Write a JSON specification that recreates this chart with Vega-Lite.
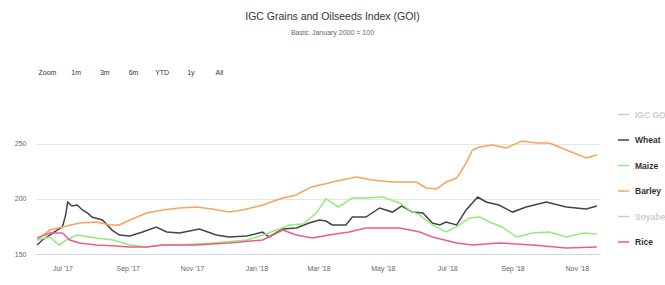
{
  "$schema": "https://vega.github.io/schema/vega-lite/v6.json",
  "width": 565,
  "height": 149,
  "autosize": {"type": "none"},
  "padding": {"left": 35, "top": 105, "right": 65, "bottom": 31},
  "background": "#ffffff",
  "config": {
    "font": "Liberation Sans",
    "view": {"stroke": null}
  },
  "title": {
    "text": "IGC Grains and Oilseeds Index (GOI)",
    "subtitle": "Basis: January 2000 = 100",
    "anchor": "middle",
    "dx": 15,
    "offset": 32,
    "fontSize": 10.5,
    "fontWeight": "normal",
    "color": "#333333",
    "subtitleFontSize": 7,
    "subtitleColor": "#666666",
    "subtitlePadding": 7
  },
  "datasets": {
    "series": [
      {"d": "2017-06-07", "s": "Wheat", "v": 158.2},
      {"d": "2017-06-12", "s": "Wheat", "v": 162.7},
      {"d": "2017-06-19", "s": "Wheat", "v": 167.0},
      {"d": "2017-06-26", "s": "Wheat", "v": 171.7},
      {"d": "2017-07-01", "s": "Wheat", "v": 174.5},
      {"d": "2017-07-04", "s": "Wheat", "v": 185.0},
      {"d": "2017-07-06", "s": "Wheat", "v": 197.1},
      {"d": "2017-07-10", "s": "Wheat", "v": 193.5},
      {"d": "2017-07-15", "s": "Wheat", "v": 194.4},
      {"d": "2017-07-20", "s": "Wheat", "v": 189.9},
      {"d": "2017-07-25", "s": "Wheat", "v": 187.0},
      {"d": "2017-07-29", "s": "Wheat", "v": 183.5},
      {"d": "2017-08-08", "s": "Wheat", "v": 180.8},
      {"d": "2017-08-17", "s": "Wheat", "v": 171.7},
      {"d": "2017-08-24", "s": "Wheat", "v": 167.2},
      {"d": "2017-09-03", "s": "Wheat", "v": 166.3},
      {"d": "2017-09-15", "s": "Wheat", "v": 169.9},
      {"d": "2017-09-28", "s": "Wheat", "v": 174.5},
      {"d": "2017-10-08", "s": "Wheat", "v": 169.9},
      {"d": "2017-10-20", "s": "Wheat", "v": 169.0},
      {"d": "2017-11-08", "s": "Wheat", "v": 172.6},
      {"d": "2017-11-24", "s": "Wheat", "v": 167.2},
      {"d": "2017-12-06", "s": "Wheat", "v": 165.4},
      {"d": "2017-12-23", "s": "Wheat", "v": 166.3},
      {"d": "2018-01-07", "s": "Wheat", "v": 169.9},
      {"d": "2018-01-13", "s": "Wheat", "v": 165.4},
      {"d": "2018-01-26", "s": "Wheat", "v": 172.6},
      {"d": "2018-02-08", "s": "Wheat", "v": 173.6},
      {"d": "2018-02-20", "s": "Wheat", "v": 178.1},
      {"d": "2018-03-02", "s": "Wheat", "v": 180.8},
      {"d": "2018-03-08", "s": "Wheat", "v": 179.9},
      {"d": "2018-03-14", "s": "Wheat", "v": 176.3},
      {"d": "2018-03-27", "s": "Wheat", "v": 176.3},
      {"d": "2018-04-02", "s": "Wheat", "v": 183.5},
      {"d": "2018-04-15", "s": "Wheat", "v": 183.5},
      {"d": "2018-04-28", "s": "Wheat", "v": 191.7},
      {"d": "2018-05-10", "s": "Wheat", "v": 188.0},
      {"d": "2018-05-19", "s": "Wheat", "v": 193.5},
      {"d": "2018-05-29", "s": "Wheat", "v": 188.0},
      {"d": "2018-06-08", "s": "Wheat", "v": 187.1},
      {"d": "2018-06-17", "s": "Wheat", "v": 178.1},
      {"d": "2018-06-24", "s": "Wheat", "v": 176.3},
      {"d": "2018-06-30", "s": "Wheat", "v": 179.0},
      {"d": "2018-07-10", "s": "Wheat", "v": 176.3},
      {"d": "2018-07-19", "s": "Wheat", "v": 189.9},
      {"d": "2018-07-30", "s": "Wheat", "v": 201.6},
      {"d": "2018-08-07", "s": "Wheat", "v": 197.1},
      {"d": "2018-08-19", "s": "Wheat", "v": 194.4},
      {"d": "2018-09-01", "s": "Wheat", "v": 188.0},
      {"d": "2018-09-14", "s": "Wheat", "v": 192.6},
      {"d": "2018-10-03", "s": "Wheat", "v": 197.1},
      {"d": "2018-10-22", "s": "Wheat", "v": 192.6},
      {"d": "2018-11-10", "s": "Wheat", "v": 190.8},
      {"d": "2018-11-20", "s": "Wheat", "v": 193.5},

      {"d": "2017-06-07", "s": "Barley", "v": 162.7},
      {"d": "2017-06-19", "s": "Barley", "v": 171.7},
      {"d": "2017-07-01", "s": "Barley", "v": 174.5},
      {"d": "2017-07-17", "s": "Barley", "v": 178.1},
      {"d": "2017-08-02", "s": "Barley", "v": 179.0},
      {"d": "2017-08-15", "s": "Barley", "v": 176.3},
      {"d": "2017-08-24", "s": "Barley", "v": 176.3},
      {"d": "2017-09-03", "s": "Barley", "v": 180.8},
      {"d": "2017-09-19", "s": "Barley", "v": 187.1},
      {"d": "2017-10-04", "s": "Barley", "v": 189.9},
      {"d": "2017-10-20", "s": "Barley", "v": 191.7},
      {"d": "2017-11-05", "s": "Barley", "v": 192.6},
      {"d": "2017-11-20", "s": "Barley", "v": 190.8},
      {"d": "2017-12-06", "s": "Barley", "v": 188.0},
      {"d": "2017-12-19", "s": "Barley", "v": 189.9},
      {"d": "2018-01-07", "s": "Barley", "v": 194.4},
      {"d": "2018-01-26", "s": "Barley", "v": 200.7},
      {"d": "2018-02-08", "s": "Barley", "v": 203.4},
      {"d": "2018-02-11", "s": "Barley", "v": 205.3},
      {"d": "2018-02-23", "s": "Barley", "v": 211.0},
      {"d": "2018-03-11", "s": "Barley", "v": 214.3},
      {"d": "2018-03-14", "s": "Barley", "v": 215.2},
      {"d": "2018-04-06", "s": "Barley", "v": 219.7},
      {"d": "2018-04-21", "s": "Barley", "v": 217.0},
      {"d": "2018-05-10", "s": "Barley", "v": 215.2},
      {"d": "2018-06-02", "s": "Barley", "v": 215.2},
      {"d": "2018-06-11", "s": "Barley", "v": 209.8},
      {"d": "2018-06-21", "s": "Barley", "v": 208.9},
      {"d": "2018-06-30", "s": "Barley", "v": 215.2},
      {"d": "2018-07-10", "s": "Barley", "v": 218.8},
      {"d": "2018-07-19", "s": "Barley", "v": 232.4},
      {"d": "2018-07-25", "s": "Barley", "v": 244.2},
      {"d": "2018-08-01", "s": "Barley", "v": 246.9},
      {"d": "2018-08-13", "s": "Barley", "v": 248.7},
      {"d": "2018-08-26", "s": "Barley", "v": 246.0},
      {"d": "2018-09-10", "s": "Barley", "v": 252.4},
      {"d": "2018-09-24", "s": "Barley", "v": 250.5},
      {"d": "2018-10-06", "s": "Barley", "v": 250.5},
      {"d": "2018-10-22", "s": "Barley", "v": 244.2},
      {"d": "2018-11-10", "s": "Barley", "v": 237.0},
      {"d": "2018-11-20", "s": "Barley", "v": 239.7},

      {"d": "2017-06-07", "s": "Maize", "v": 162.7},
      {"d": "2017-06-19", "s": "Maize", "v": 165.4},
      {"d": "2017-06-28", "s": "Maize", "v": 158.2},
      {"d": "2017-07-05", "s": "Maize", "v": 162.7},
      {"d": "2017-07-15", "s": "Maize", "v": 167.2},
      {"d": "2017-08-02", "s": "Maize", "v": 164.5},
      {"d": "2017-08-18", "s": "Maize", "v": 162.7},
      {"d": "2017-09-03", "s": "Maize", "v": 158.2},
      {"d": "2017-09-19", "s": "Maize", "v": 156.3},
      {"d": "2017-10-04", "s": "Maize", "v": 158.2},
      {"d": "2017-10-20", "s": "Maize", "v": 158.2},
      {"d": "2017-11-20", "s": "Maize", "v": 160.0},
      {"d": "2017-12-23", "s": "Maize", "v": 162.7},
      {"d": "2018-01-07", "s": "Maize", "v": 167.2},
      {"d": "2018-01-23", "s": "Maize", "v": 172.6},
      {"d": "2018-02-01", "s": "Maize", "v": 176.3},
      {"d": "2018-02-14", "s": "Maize", "v": 177.2},
      {"d": "2018-02-27", "s": "Maize", "v": 187.1},
      {"d": "2018-03-08", "s": "Maize", "v": 200.0},
      {"d": "2018-03-20", "s": "Maize", "v": 192.6},
      {"d": "2018-04-02", "s": "Maize", "v": 200.7},
      {"d": "2018-04-15", "s": "Maize", "v": 200.7},
      {"d": "2018-05-01", "s": "Maize", "v": 201.6},
      {"d": "2018-05-17", "s": "Maize", "v": 196.2},
      {"d": "2018-05-26", "s": "Maize", "v": 189.9},
      {"d": "2018-06-05", "s": "Maize", "v": 185.3},
      {"d": "2018-06-17", "s": "Maize", "v": 176.3},
      {"d": "2018-06-30", "s": "Maize", "v": 169.9},
      {"d": "2018-07-10", "s": "Maize", "v": 174.5},
      {"d": "2018-07-22", "s": "Maize", "v": 182.6},
      {"d": "2018-08-01", "s": "Maize", "v": 183.5},
      {"d": "2018-08-10", "s": "Maize", "v": 179.0},
      {"d": "2018-08-22", "s": "Maize", "v": 174.5},
      {"d": "2018-09-05", "s": "Maize", "v": 165.4},
      {"d": "2018-09-20", "s": "Maize", "v": 169.0},
      {"d": "2018-10-06", "s": "Maize", "v": 169.9},
      {"d": "2018-10-22", "s": "Maize", "v": 165.4},
      {"d": "2018-11-07", "s": "Maize", "v": 169.0},
      {"d": "2018-11-20", "s": "Maize", "v": 168.1},

      {"d": "2017-06-07", "s": "Rice", "v": 164.5},
      {"d": "2017-06-19", "s": "Rice", "v": 169.0},
      {"d": "2017-07-01", "s": "Rice", "v": 169.0},
      {"d": "2017-07-08", "s": "Rice", "v": 162.7},
      {"d": "2017-07-17", "s": "Rice", "v": 160.0},
      {"d": "2017-08-02", "s": "Rice", "v": 158.2},
      {"d": "2017-08-21", "s": "Rice", "v": 157.2},
      {"d": "2017-09-03", "s": "Rice", "v": 156.3},
      {"d": "2017-09-19", "s": "Rice", "v": 156.3},
      {"d": "2017-10-04", "s": "Rice", "v": 158.2},
      {"d": "2017-11-05", "s": "Rice", "v": 158.2},
      {"d": "2017-12-06", "s": "Rice", "v": 160.0},
      {"d": "2018-01-07", "s": "Rice", "v": 162.7},
      {"d": "2018-01-26", "s": "Rice", "v": 171.7},
      {"d": "2018-02-08", "s": "Rice", "v": 167.2},
      {"d": "2018-02-23", "s": "Rice", "v": 164.5},
      {"d": "2018-03-11", "s": "Rice", "v": 167.2},
      {"d": "2018-03-30", "s": "Rice", "v": 169.9},
      {"d": "2018-04-15", "s": "Rice", "v": 173.6},
      {"d": "2018-05-17", "s": "Rice", "v": 173.6},
      {"d": "2018-06-05", "s": "Rice", "v": 169.9},
      {"d": "2018-06-17", "s": "Rice", "v": 165.4},
      {"d": "2018-07-10", "s": "Rice", "v": 160.0},
      {"d": "2018-07-25", "s": "Rice", "v": 158.2},
      {"d": "2018-08-19", "s": "Rice", "v": 160.0},
      {"d": "2018-09-20", "s": "Rice", "v": 158.2},
      {"d": "2018-10-22", "s": "Rice", "v": 155.4},
      {"d": "2018-11-20", "s": "Rice", "v": 156.3}
    ],
    "buttons": [
      {"b": "Zoom"}, {"b": "1m"}, {"b": "3m"}, {"b": "6m"}, {"b": "YTD"}, {"b": "1y"}, {"b": "All"}
    ]
  },
  "layer": [
    {
      "data": {"name": "series"},
      "mark": {"type": "line", "strokeWidth": 1.5, "interpolate": "linear"},
      "encoding": {
        "x": {
          "field": "d",
          "type": "temporal",
          "scale": {
            "type": "utc",
            "domain": [
              {"year": 2017, "month": 6, "date": 5, "utc": true},
              {"year": 2018, "month": 11, "date": 23, "utc": true}
            ]
          },
          "axis": {
            "title": null,
            "labelExpr": "utcFormat(datum.value, \"%b '%y\")",
            "values": [
              {"year": 2017, "month": 7, "date": 1, "utc": true},
              {"year": 2017, "month": 9, "date": 1, "utc": true},
              {"year": 2017, "month": 11, "date": 1, "utc": true},
              {"year": 2018, "month": 1, "date": 1, "utc": true},
              {"year": 2018, "month": 3, "date": 1, "utc": true},
              {"year": 2018, "month": 5, "date": 1, "utc": true},
              {"year": 2018, "month": 7, "date": 1, "utc": true},
              {"year": 2018, "month": 9, "date": 1, "utc": true},
              {"year": 2018, "month": 11, "date": 1, "utc": true}
            ],
            "grid": false,
            "ticks": false,
            "domainColor": "#ccd6eb",
            "labelColor": "#666666",
            "labelFontSize": 7,
            "labelPadding": 10,
            "labelFlush": false
          }
        },
        "y": {
          "field": "v",
          "type": "quantitative",
          "scale": {"domain": [150, 285], "nice": false, "zero": false},
          "axis": {
            "title": null,
            "values": [150, 200, 250],
            "domain": false,
            "ticks": false,
            "gridColor": "#e6e6e6",
            "labelColor": "#666666",
            "labelFontSize": 7,
            "labelPadding": 9
          }
        },
        "color": {
          "field": "s",
          "type": "nominal",
          "scale": {
            "domain": ["IGC GOI", "Wheat", "Maize", "Barley", "Soyabeans", "Rice"],
            "range": ["#cccccc", "#434348", "#90ed7d", "#f7a35c", "#cccccc", "#f15c80"]
          },
          "legend": {
            "orient": "none",
            "legendX": 582,
            "legendY": 3,
            "title": null,
            "symbolType": "stroke",
            "symbolStrokeWidth": 1.5,
            "symbolSize": 121,
            "labelFontSize": 8.5,
            "labelFontWeight": "bold",
            "labelOffset": 5,
            "rowPadding": 14.5,
            "encode": {
              "labels": {
                "update": {
                  "fill": {"signal": "indexof(['IGC GOI','Soyabeans'], datum.label) >= 0 ? '#cccccc' : '#333333'"}
                }
              }
            }
          }
        }
      }
    },
    {
      "data": {"name": "buttons"},
      "mark": {"type": "text", "opacity": 0},
      "encoding": {
        "x": {
          "field": "b",
          "type": "nominal",
          "scale": {"type": "point", "domain": ["Zoom", "1m", "3m", "6m", "YTD", "1y", "All"], "range": [12, 184], "padding": 0},
          "axis": {
            "orient": "top",
            "title": null,
            "domain": false,
            "ticks": false,
            "grid": false,
            "offset": 30,
            "labelPadding": 0,
            "labelFontSize": 7,
            "labelColor": "#333333",
            "labelAngle": 0
          }
        },
        "text": {"field": "b"}
      }
    }
  ],
  "resolve": {"scale": {"x": "independent"}, "axis": {"x": "independent"}}
}
